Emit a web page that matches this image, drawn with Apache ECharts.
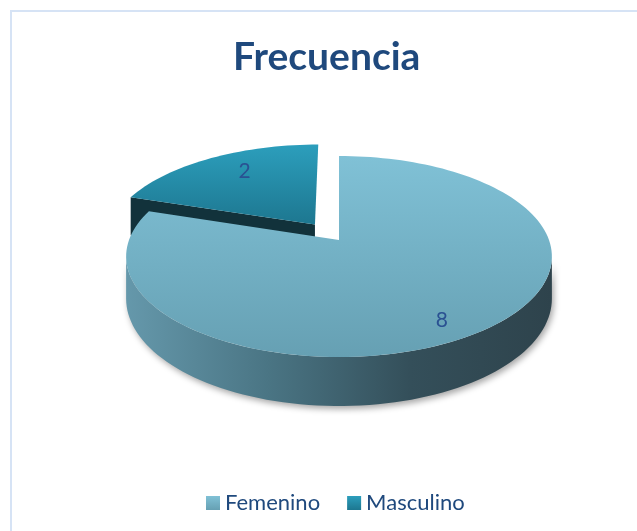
<!DOCTYPE html>
<html>
<head>
<meta charset="utf-8">
<script src="https://cdn.jsdelivr.net/npm/echarts@6/dist/echarts.min.js"></script>
<style>
html, body { margin: 0; padding: 0; background: #fff; }
#main { width: 637px; height: 531px; }
</style>
</head>
<body>
<div id="main"></div>
<script>
// datos
var categories = ['Femenino', 'Masculino'];
var values = [8, 2];
var explode = [0, 0.2];

(function () {
    var chart = echarts.init(document.getElementById('main'));
    var total = values.reduce(function (s, v) { return s + v; }, 0);

    // proyeccion del disco 3D
    var CX = 339, CY = 240, RX = 210, RY = 97.8, P = 0.164, DEPTH = 41;

    var topColors = [['#80c1d6', '#66a0b3'], ['#2c9ebc', '#1d7790']];
    var wallColors = [['#6598ab', '#4a7584', '#344f5a', '#2e434c'], ['#15363f', '#15363f', '#15363f', '#15363f']];
    var sideColor = ['#2f4a54', '#12323b'];
    var labelR = [0.75, 0.65], labelDy = [14, -8];

    function pt(a, r, o, down) {
        var rad = a * Math.PI / 180;
        var X = o[0] + r * Math.sin(rad), Z = o[1] + r * Math.cos(rad);
        var s = 1 / (1 + P * Z);
        return [CX + RX * X * s, CY - RY * Z * s + (down ? DEPTH * s : 0)];
    }
    function arc(a0, a1, o, down) {
        var out = [], n = Math.max(2, Math.ceil(Math.abs(a1 - a0) / 2));
        for (var i = 0; i <= n; i++) out.push(pt(a0 + (a1 - a0) * i / n, 1, o, down));
        return out;
    }
    // angulos de la silueta (x max / x min)
    function silhouette(o) {
        var right = 90, left = 270, bx = -1e9, sx = 1e9;
        for (var a = 0; a <= 360; a += 0.5) {
            var x = pt(a, 1, o, false)[0];
            if (a <= 180 && x > bx) { bx = x; right = a; }
            if (a >= 180 && x < sx) { sx = x; left = a; }
        }
        return [right, left];
    }
    function grad(cols, horizontal) {
        var stops = cols.map(function (c, i) { return { offset: i / (cols.length - 1), color: c }; });
        return horizontal ? new echarts.graphic.LinearGradient(0, 0, 1, 0, stops)
                          : new echarts.graphic.LinearGradient(0, 0, 0, 1, stops);
    }

    var start = [], acc = 0;
    values.forEach(function (v) { start.push(acc / total * 360); acc += v; });

    function makeRender(i) {
        return function (params, api) {
            var a0 = start[i], a1 = a0 + api.value(0) / total * 360;
            var mid = (a0 + a1) / 2, mr = mid * Math.PI / 180;
            var o = [explode[i] * Math.sin(mr), explode[i] * Math.cos(mr)];
            var children = [];
            var sil = silhouette(o);
            var vTop = pt(0, 0, o, false), vBot = pt(0, 0, o, true);

            // pared exterior
            var lo = Math.max(a0, sil[0]), hi = Math.min(a1, sil[1]);
            if (hi > lo) {
                var pts = arc(lo, hi, o, false).concat(arc(hi, lo, o, true));
                children.push({
                    type: 'polygon', shape: { points: pts },
                    style: { fill: grad(wallColors[i], true), shadowBlur: 6, shadowOffsetX: 2, shadowOffsetY: 3, shadowColor: 'rgba(0,0,0,0.35)' }
                });
            }
            // caras radiales
            [[a0, a0 - 90], [a1, a1 + 90]].forEach(function (f) {
                if (Math.cos(f[1] * Math.PI / 180) < -0.02) {
                    children.push({
                        type: 'polygon',
                        shape: { points: [vTop, pt(f[0], 1, o, false), pt(f[0], 1, o, true), vBot] },
                        style: { fill: sideColor[i] }
                    });
                }
            });
            // cara superior
            children.push({
                type: 'polygon', shape: { points: [vTop].concat(arc(a0, a1, o, false)) },
                style: { fill: grad(topColors[i], false) }
            });
            // etiqueta
            var lp = pt(mid, labelR[i], o, false);
            children.push({
                type: 'text', x: lp[0], y: lp[1] + labelDy[i],
                style: { text: String(api.value(0)), fontFamily: 'Lato', fontSize: 21, fill: '#2a5192', align: 'center', verticalAlign: 'middle' }
            });
            return { type: 'group', children: children };
        };
    }

    var series = categories.map(function (name, i) {
        var mr = (start[i] + values[i] / total * 180) * Math.PI / 180;
        return {
            name: name,
            type: 'custom',
            coordinateSystem: 'none',
            z: 3 - Math.cos(mr),
            itemStyle: { color: grad(topColors[i], false) },
            renderItem: makeRender(i),
            data: [[values[i]]]
        };
    });

    var option = {
        backgroundColor: '#fff',
        animation: false,
        title: {
            text: 'Frecuencia',
            left: 228,
            top: 33,
            textStyle: { fontFamily: 'Lato', fontWeight: 'bold', fontSize: 39, color: '#1f497d' }
        },
        legend: {
            data: categories,
            left: 201,
            top: 487,
            icon: 'rect',
            itemWidth: 14,
            itemHeight: 14,
            itemGap: 27,
            textStyle: { fontFamily: 'Lato', fontSize: 22, color: '#1f497d' }
        },
        graphic: [{
            type: 'rect',
            shape: { x: 11, y: 11, width: 700, height: 600 },
            style: { fill: 'none', stroke: '#d6e3f5', lineWidth: 2 },
            silent: true
        }],
        series: series
    };

    chart.setOption(option);
})();
</script>
</body>
</html>
